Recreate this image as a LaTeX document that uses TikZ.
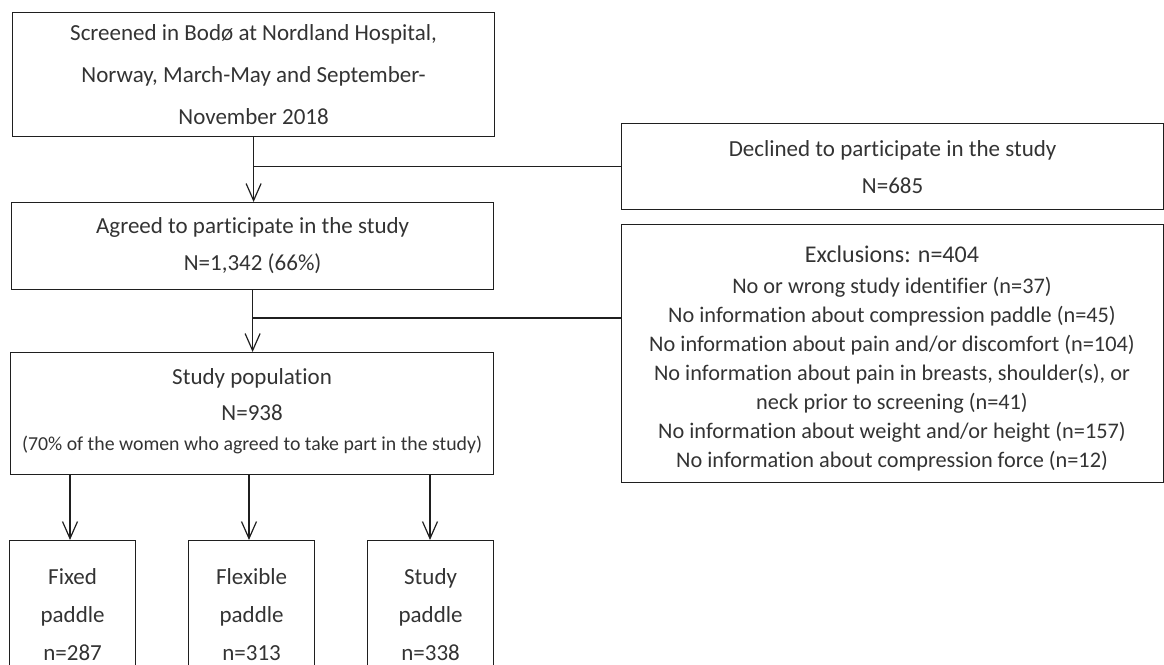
\documentclass[tikz,border=0pt]{standalone}
\usepackage{fontspec}
\setmainfont{Carlito}[Ligatures=NoCommon]
\usetikzlibrary{arrows.meta}
\begin{document}
\begin{tikzpicture}[x=1pt,y=-1pt,
  box/.style={draw=black!88, line width=1.2pt, rectangle, anchor=north west, inner sep=0pt, align=center, text=black!80},
  txt/.style={inner sep=0pt, align=center, text=black!80},
  ln/.style={draw=black!88, line width=1.2pt},
  arr/.style={ln, -{Straight Barb[length=17pt,width=15pt,line width=1.2pt]}},
  big/.style={font=\fontsize{23}{37}\selectfont},
  small/.style={font=\fontsize{22.3}{29}\selectfont},
  leaf/.style={box, font=\fontsize{23}{38}\selectfont, minimum width=126pt, minimum height=148pt}
]
\useasboundingbox (0,0) rectangle (1164,664);
\clip (0,0) rectangle (1164,664);

\node[box, font=\fontsize{23}{42}\selectfont, minimum width=482pt, minimum height=124pt] (scr) at (12,12)
  {Screened in Bodø at Nordland Hospital,\\Norway, March-May and September-\\November 2018};
\node[box, big, minimum width=482pt, minimum height=87pt] (agr) at (11,202)
  {Agreed to participate in the study\\N=1,342 (66\%)};
\node[box, minimum width=483pt, minimum height=122pt] (pop) at (10,352) {};
\node[txt, big, anchor=north] (popt) at (pop.north |- 0,368)
  {Study population\\[-1pt]N=938\\[-7pt]{\fontsize{19.8}{29}\selectfont (70\% of the women who agreed to take part in the study)}};
\node[box, big, minimum width=542pt, minimum height=86pt] (dec) at (621,123)
  {Declined to participate in the study\\N=685};
\node[box, minimum width=542pt, minimum height=258pt] (exc) at (621,224) {};
\node[txt, small, anchor=north] (exct) at (892,246)
  {{\fontsize{24}{29}\selectfont Exclusions: n=404}\\[2pt]
   No or wrong study identifier (n=37)\\
   No information about compression paddle (n=45)\\
   No information about pain and/or discomfort (n=104)\\
   No information about pain in breasts, shoulder(s), or\\
   neck prior to screening (n=41)\\
   No information about weight and/or height (n=157)\\
   No information about compression force (n=12)};
\node[leaf] (fix) at (9,540) {Fixed\\paddle\\n=287};
\node[leaf] (flx) at (188,540) {Flexible\\paddle\\n=313};
\node[leaf] (stu) at (367,540) {Study\\paddle\\n=338};

\coordinate (e1) at (621,318);

\draw[arr] (scr.south) -- (agr.north -| scr.south);
\draw[ln] (dec.west -| scr.south) -- (dec.west);
\draw[arr] (agr.south) -- (pop.north -| agr.south);
\draw[ln] (e1 -| agr.south) -- (e1);
\draw[arr] (pop.south -| 70,0) -- (fix.north -| 70,0);
\draw[arr] (pop.south -| 249,0) -- (flx.north -| 249,0);
\draw[arr] (pop.south -| 430,0) -- (stu.north -| 430,0);
\end{tikzpicture}
\end{document}
